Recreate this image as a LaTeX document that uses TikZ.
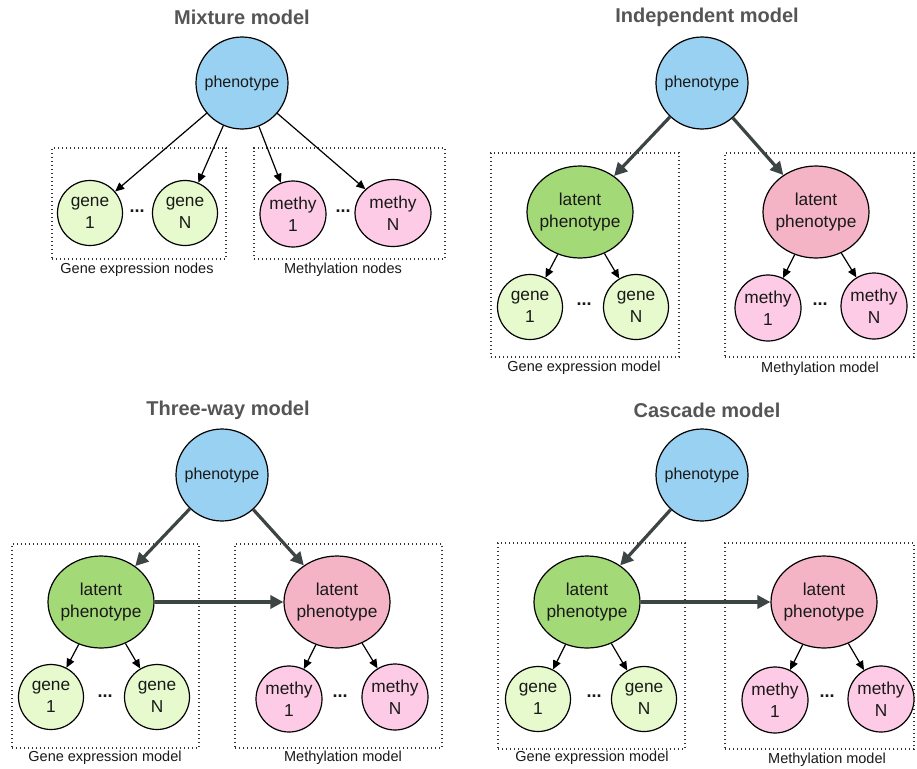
\documentclass[tikz,border=0pt]{standalone}
\usepackage{fontspec}
\setmainfont{Liberation Sans}
\usetikzlibrary{shapes.geometric,arrows.meta}
\definecolor{phblue}{HTML}{99D1F2}
\definecolor{latgreen}{HTML}{A4D977}
\definecolor{genegreen}{HTML}{E6FACD}
\definecolor{latpink}{HTML}{F4B4C6}
\definecolor{methypink}{HTML}{FDCBE5}
\definecolor{titlegray}{HTML}{555555}
\definecolor{arrowgray}{HTML}{3C4444}
\tikzset{
  every node/.style={font=\fontsize{17.3}{21.5}\selectfont, align=center, text=black!90},
  pheno/.style={circle, draw, line width=1.2pt, fill=phblue, minimum size=92pt, inner sep=0pt, font=\fontsize{16}{20}\selectfont},
  latent/.style={ellipse, draw, line width=1.2pt, minimum width=106pt, minimum height=92pt, inner xsep=-5pt, inner ysep=0pt},
  latg/.style={latent, fill=latgreen},
  latp/.style={latent, fill=latpink},
  gene/.style={circle, draw, line width=1.2pt, fill=genegreen, minimum size=65pt, inner sep=0pt},
  methy/.style={circle, draw, line width=1.2pt, fill=methypink, minimum size=66pt, inner sep=0pt},
  methywide/.style={ellipse, draw, line width=1.2pt, fill=methypink, minimum width=76pt, minimum height=67pt, inner sep=0pt},
  title/.style={font=\fontsize{20}{24}\selectfont\bfseries, text=titlegray},
  caption/.style={font=\fontsize{14.5}{17}\selectfont},
  dotbox/.style={draw=black!80, line width=1.1pt, dash pattern=on 1.1pt off 2.9pt, rectangle, inner sep=0pt},
  ellip/.style={font=\fontsize{18}{18}\selectfont\bfseries},
  thinarrow/.style={-{Triangle[length=9pt,width=8pt]}, line width=1.2pt},
  thickarrow/.style={-{Triangle[length=13pt,width=13pt]}, line width=3.2pt, draw=arrowgray, color=arrowgray},
}
\begin{document}
\begin{tikzpicture}[x=1pt,y=-1pt]
\useasboundingbox[fill=white] (0,0) rectangle (917,768);

% ---------- Mixture model ----------
\node[title] (t1) at (242,17) {Mixture model};
\node[dotbox, minimum width=174pt, minimum height=111pt] (p1bg) at (139,203.5) {};
\node[dotbox, minimum width=191pt, minimum height=111pt] (p1bm) at (349.5,203.5) {};
\node[pheno] (p1ph) at (242,83) {phenotype};
\node[gene] (p1g1) at (90,213) {gene\\1};
\node[gene] (p1gN) at (185,213) {gene\\N};
\node[ellip] (p1d1) at (137,211) {...};
\node[methy] (p1m1) at (293,214) {methy\\1};
\node[methywide] (p1mN) at (393,213) {methy\\N};
\node[ellip] (p1d2) at (343,211) {...};
\node[caption] (p1cg) at (137,270) {Gene expression nodes};
\node[caption] (p1cm) at (343,270) {Methylation nodes};
\draw[thinarrow] (p1ph) -- (p1g1);
\draw[thinarrow] (p1ph) -- (p1gN);
\draw[thinarrow] (p1ph) -- (p1m1);
\draw[thinarrow] (p1ph) -- (p1mN);

% ---------- Independent model ----------
\node[title] (t2) at (707,17) {Independent model};
\node[dotbox, minimum width=188pt, minimum height=204pt] (p2bg) at (585,255) {};
\node[dotbox, minimum width=189pt, minimum height=204pt] (p2bm) at (819.5,255) {};
\node[pheno] (p2ph) at (702,83) {phenotype};
\node[latg] (p2lg) at (580,212) {latent\\phenotype};
\node[latp] (p2lp) at (816,212) {latent\\phenotype};
\node[gene] (p2g1) at (530,307) {gene\\1};
\node[gene] (p2gN) at (636,307) {gene\\N};
\node[ellip] (p2d1) at (584,304) {...};
\node[methy] (p2m1) at (768,308) {methy\\1};
\node[methy] (p2mN) at (874,306) {methy\\N};
\node[ellip] (p2d2) at (820,304) {...};
\node[caption] (p2cg) at (584,368) {Gene expression model};
\node[caption] (p2cm) at (820,369) {Methylation model};
\draw[thickarrow] (p2ph) -- (p2lg);
\draw[thickarrow] (p2ph) -- (p2lp);
\draw[thinarrow] (p2lg) -- (p2g1);
\draw[thinarrow] (p2lg) -- (p2gN);
\draw[thinarrow] (p2lp) -- (p2m1);
\draw[thinarrow] (p2lp) -- (p2mN);

% ---------- Three-way model ----------
\node[title] (t3) at (228,410) {Three-way model};
\node[dotbox, minimum width=187pt, minimum height=204pt] (p3bg) at (105.5,646) {};
\node[dotbox, minimum width=207pt, minimum height=204pt] (p3bm) at (338.5,646) {};
\node[pheno] (p3ph) at (222,475) {phenotype};
\node[latg] (p3lg) at (101,602) {latent\\phenotype};
\node[latp] (p3lp) at (337,602) {latent\\phenotype};
\node[gene] (p3g1) at (51,697) {gene\\1};
\node[gene] (p3gN) at (157,697) {gene\\N};
\node[ellip] (p3d1) at (105,696) {...};
\node[methy] (p3m1) at (289,699) {methy\\1};
\node[methy] (p3mN) at (395,697) {methy\\N};
\node[ellip] (p3d2) at (340,696) {...};
\node[caption] (p3cg) at (105,758) {Gene expression model};
\node[caption] (p3cm) at (343,758) {Methylation model};
\draw[thickarrow] (p3ph) -- (p3lg);
\draw[thickarrow] (p3ph) -- (p3lp);
\draw[thickarrow] (p3lg) -- (p3lp);
\draw[thinarrow] (p3lg) -- (p3g1);
\draw[thinarrow] (p3lg) -- (p3gN);
\draw[thinarrow] (p3lp) -- (p3m1);
\draw[thinarrow] (p3lp) -- (p3mN);

% ---------- Cascade model ----------
\node[title] (t4) at (707,410) {Cascade model};
\node[dotbox, minimum width=187pt, minimum height=206pt] (p4bg) at (591.5,646) {};
\node[dotbox, minimum width=189pt, minimum height=206pt] (p4bm) at (819.5,646) {};
\node[pheno] (p4ph) at (702,475) {phenotype};
\node[latg] (p4lg) at (587,602) {latent\\phenotype};
\node[latp] (p4lp) at (824,602) {latent\\phenotype};
\node[gene] (p4g1) at (538,699) {gene\\1};
\node[gene] (p4gN) at (644,699) {gene\\N};
\node[ellip] (p4d1) at (594,696) {...};
\node[methy] (p4m1) at (775,700) {methy\\1};
\node[methy] (p4mN) at (881,699) {methy\\N};
\node[ellip] (p4d2) at (827,696) {...};
\node[caption] (p4cg) at (592,758) {Gene expression model};
\node[caption] (p4cm) at (827,760) {Methylation model};
\draw[thickarrow] (p4ph) -- (p4lg);
\draw[thickarrow] (p4lg) -- (p4lp);
\draw[thinarrow] (p4lg) -- (p4g1);
\draw[thinarrow] (p4lg) -- (p4gN);
\draw[thinarrow] (p4lp) -- (p4m1);
\draw[thinarrow] (p4lp) -- (p4mN);
\end{tikzpicture}
\end{document}
